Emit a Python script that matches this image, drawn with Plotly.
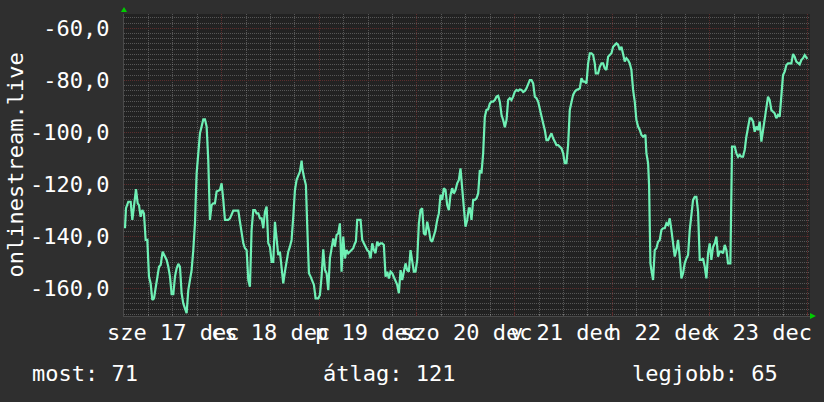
import plotly.graph_objects as go

# ---- data (hours since Dec 17 00:00, values) ----
hours = [
    0.24, 0.49, 1.06, 1.64, 2.05, 2.45, 2.95, 3.36, 3.68, 4.09, 4.50, 4.91, 5.32, 5.73, 6.14, 6.55, 6.96, 7.37, 7.78, 8.19,
    8.60, 9.01, 9.50, 10.07, 10.48, 10.89, 11.30, 11.71, 12.12, 12.53, 12.94, 13.35, 13.76, 14.16, 14.57, 14.98, 15.39, 15.80,
    16.21, 16.62, 17.03, 17.44, 17.85, 18.26, 18.67, 19.08, 19.49, 19.90, 20.31, 20.71, 21.12, 21.53, 21.94, 22.35, 22.76,
    23.58, 23.99, 24.40, 24.81, 25.63, 26.04, 26.86, 28.09,
    28.50, 28.91, 29.32, 29.73, 30.14, 30.55, 30.95, 31.36, 31.77, 32.18, 32.59, 33.00, 33.41, 33.82, 34.23, 34.64, 35.05,
    35.46, 35.87, 36.28, 36.69, 37.10, 37.51, 37.91, 38.32, 38.73, 39.14, 39.55, 39.96, 40.37, 40.78, 41.19, 41.60, 42.01,
    42.42, 42.83, 43.24, 43.65, 43.89, 44.30, 44.71, 45.04, 45.45, 45.86, 46.27, 46.68, 47.09, 47.74, 48.15, 48.56, 48.97,
    49.38, 49.79, 50.20, 50.61, 51.02, 51.43, 51.83, 52.24, 52.65, 53.06, 53.47, 53.88, 54.29, 54.70, 55.11, 55.52, 55.93,
    56.34, 56.75,
    56.99, 57.32, 58.14, 58.55, 58.96, 59.37, 59.78, 60.19, 60.60, 61.01, 61.42, 61.82, 62.23, 62.64, 63.05, 63.46, 63.87,
    64.28, 64.69, 65.10, 65.51, 65.92, 66.33, 66.74, 67.15, 67.56, 67.97, 68.38, 68.78, 69.19, 69.60, 70.01, 70.42, 70.83,
    71.24, 71.65, 72.06, 72.47, 72.88, 73.29, 73.70, 74.11, 74.52, 74.93, 75.34, 75.74, 76.15, 76.56, 76.97, 77.38, 77.79,
    78.20, 78.61, 79.02, 79.43, 79.84, 80.25, 80.66, 81.07, 81.48, 81.89, 82.30, 82.70, 83.11, 83.52, 83.93, 84.34, 84.75,
    85.00, 85.41, 85.82, 86.23, 86.64, 87.05, 87.45, 87.86, 88.27, 88.68, 89.09, 89.50, 89.91, 90.32, 90.73, 91.14, 91.55,
    91.96, 92.37, 92.78, 93.19, 93.60, 94.01, 94.41, 94.82, 95.23, 95.64, 96.05, 96.46, 96.87, 97.28, 97.69, 98.10, 98.51,
    98.92, 99.33, 99.74, 100.15, 100.56, 100.97, 101.37, 101.78, 102.19, 102.60, 103.01, 103.42, 103.83, 104.24, 104.65,
    105.06, 105.47, 105.88, 106.29, 106.70, 107.11, 107.52, 107.93, 108.33, 108.74, 109.15, 109.56, 109.97, 110.38, 110.79,
    111.20, 111.61, 112.02, 112.43, 112.84,
    113.25, 113.66, 114.07, 114.48, 114.89, 115.30, 115.70, 115.95, 116.52, 116.93, 117.34, 117.75, 118.16, 118.57, 118.98,
    119.39, 119.80, 120.21, 120.62, 121.03, 121.44, 121.85, 122.26, 122.66, 123.07, 123.48, 123.89, 124.30, 124.71, 125.12,
    125.53, 125.94, 126.35, 126.76, 127.17, 127.58, 128.15, 128.40, 128.81, 129.05, 129.38, 129.62, 130.03, 130.44, 130.85,
    131.26, 131.67, 132.08, 132.49, 132.90, 133.31, 133.72, 134.13, 134.54, 134.95, 135.36, 135.77, 136.17, 136.58, 136.99,
    137.40, 137.81, 138.22, 138.63, 139.04, 139.45, 139.86, 140.27, 140.68, 141.09,
    141.33, 141.50, 141.91, 142.32, 142.73, 143.14, 143.55, 143.95, 144.36, 144.77, 145.18, 145.59, 146.00, 146.41, 146.82,
    147.23, 147.64, 148.05, 148.46, 149.03, 149.44, 150.10, 150.51, 150.91, 151.32, 151.73, 152.14, 152.55, 152.96, 153.37,
    153.78, 154.19, 154.60, 155.01, 155.42, 155.83, 156.24, 156.65, 157.06, 157.47, 157.87, 158.28, 158.69, 159.10, 159.51,
    159.92, 160.33, 160.74, 161.15, 161.56, 161.97, 162.38, 162.79, 163.20, 163.61, 164.02, 164.43, 164.83, 165.24, 165.65,
    166.06, 166.47, 166.88, 167.29, 167.70, 167.95,
]
values = [
    -136.9, -129.2, -126.7, -126.7, -133.7, -127.3, -121.9, -127.3, -128.0, -132.5, -129.9, -131.2, -141.4, -141.4, -155.5,
    -158.1, -164.5, -163.9, -159.4, -154.2, -151.7, -151.0, -145.9, -147.8, -149.1, -151.7, -155.5, -162.2, -162.2, -155.5,
    -152.3, -150.6, -151.7, -161.9, -165.8, -167.7, -169.6, -160.7, -156.8, -153.0, -145.3, -135.0, -115.8, -107.4, -100.4,
    -97.8, -95.0, -95.0, -97.8, -110.7, -133.7, -128.0, -127.3, -127.3, -122.8, -122.2, -119.6, -126.0, -133.7, -133.7,
    -133.1, -130.1, -130.1,
    -134.4, -138.9, -142.7, -144.6, -145.3, -156.8, -159.4, -137.6, -129.9, -129.9, -131.2, -131.2, -133.1, -133.1, -136.9,
    -130.5, -128.6, -142.7, -144.0, -149.8, -149.8, -134.4, -142.7, -147.2, -145.9, -152.9, -158.1, -153.6, -149.1, -145.9,
    -144.0, -141.4, -132.5, -122.2, -118.3, -116.4, -115.1, -110.9, -114.5, -117.7, -120.3, -136.3, -154.2, -155.5, -156.8,
    -158.7, -163.9, -163.9, -162.6, -155.5, -145.0, -152.9, -154.2, -160.7, -148.5, -144.0, -140.8, -144.0, -139.5, -138.9,
    -135.0, -153.6, -140.1, -148.5, -145.3, -146.6, -145.9, -145.3, -144.6, -142.7,
    -142.1, -133.7, -133.7, -141.4, -142.7, -144.0, -145.3, -145.9, -148.5, -142.7, -145.3, -146.5, -142.1, -143.3, -142.7,
    -142.7, -143.3, -155.5, -153.6, -156.2, -153.6, -154.2, -155.5, -156.8, -158.7, -161.9, -153.0, -156.8, -153.0, -150.4,
    -153.0, -153.6, -145.3, -149.8, -153.6, -153.6, -149.1, -135.0, -129.9, -129.2, -138.9, -139.5, -134.4, -137.6, -141.4,
    -142.1, -140.1, -137.6, -133.7, -131.2, -124.1, -126.0, -121.5, -122.2, -128.0, -129.9, -124.1, -121.5, -123.5, -122.2,
    -119.6, -118.3, -113.9, -120.9, -127.3, -136.3, -133.7, -129.2,
    -129.2, -133.7, -126.0, -126.0, -125.4, -123.5, -114.5, -115.8, -108.1, -94.0, -91.4, -91.2, -88.9, -88.2, -88.2, -87.6,
    -86.3, -86.0, -88.2, -93.3, -95.3, -98.1, -95.3, -87.6, -86.9, -87.6, -86.3, -84.4, -83.7, -84.1, -83.5, -83.7, -84.5,
    -84.1, -83.1, -81.8, -79.9, -79.9, -81.2, -86.3, -86.9, -88.2, -91.4, -94.6, -96.5, -99.1, -103.0, -103.0, -101.7,
    -100.4, -102.3, -103.6, -104.9, -104.9, -105.5, -106.2, -108.1, -111.9, -111.9, -104.9, -91.4, -88.2, -85.6, -84.4,
    -83.7, -83.5, -83.1, -79.2, -80.5,
    -80.5, -81.2, -73.5, -69.6, -69.6, -70.3, -73.5, -77.3, -77.3, -74.8, -73.5, -73.5, -75.4, -76.0, -70.9, -70.3, -69.6,
    -67.1, -66.4, -65.8, -66.4, -68.3, -67.1, -70.3, -72.8, -71.5, -72.2, -73.5, -76.0, -83.7, -88.2, -95.3, -97.8, -99.1,
    -101.0, -101.7, -101.0, -108.1, -111.9, -120.3, -150.4, -153.0, -156.8, -145.3, -144.6, -142.1, -141.4, -137.6, -136.9,
    -136.9, -135.0, -135.6, -133.1, -137.6, -142.7, -147.8, -145.3, -141.4, -147.8, -156.2, -154.2, -150.4, -148.5, -147.2,
    -137.6, -132.5, -126.0, -124.8, -124.8, -130.5,
    -138.9, -149.1, -149.1, -148.5, -151.7, -156.2, -146.5, -142.7, -149.1, -144.0, -142.7, -140.1, -147.8, -145.9, -145.9,
    -146.5, -143.3, -145.3, -150.4, -150.4, -105.5, -105.5, -108.1, -109.4, -108.7, -109.4, -109.4, -106.8, -101.7, -97.8,
    -94.6, -94.6, -95.9, -99.8, -97.8, -99.1, -95.9, -103.6, -99.1, -94.0, -90.1, -86.3, -87.6, -91.4, -92.1, -92.7, -94.6,
    -93.3, -94.0, -83.7, -78.0, -76.7, -74.1, -73.5, -73.5, -73.5, -69.9, -70.9, -72.8, -73.5, -73.9, -72.2, -71.5, -70.3,
    -71.5, -71.8,
]

day_label_hours = [12, 36, 60, 84, 108, 132, 156]
day_labels = ["sze 17 dec", "cs 18 dec", "p 19 dec", "szo 20 dec", "v 21 dec", "h 22 dec", "k 23 dec"]
y_tick_vals = [-60, -80, -100, -120, -140, -160]
y_tick_text = ["-60,0", "-80,0", "-100,0", "-120,0", "-140,0", "-160,0"]
y_title = "onlinestream.live"
stats_labels = ["most: 71", "átlag: 121", "legjobb: 65"]

FONT = "DejaVu Sans Mono"
BG = "#2f2f2f"
PLOT_BG = "#222222"
MINOR = "rgba(150,150,150,0.45)"
MAJOR = "#5c2d2d"

fig = go.Figure()
fig.add_trace(go.Scatter(
    x=hours, y=values, mode="lines",
    line=dict(color="#6ff0b5", width=2.2),
    hoverinfo="skip", showlegend=False,
))

fig.update_layout(
    width=824, height=402,
    margin=dict(l=124, r=14, t=14, b=86),
    paper_bgcolor=BG, plot_bgcolor=PLOT_BG,
    font=dict(family=FONT, size=22, color="white"),
    hovermode=False,
    xaxis=dict(
        range=[0, 168.6], showticklabels=False, zeroline=False, fixedrange=True,
        tick0=0, dtick=24, showgrid=True, gridcolor=MAJOR, griddash="1px,1px", gridwidth=1,
        ticks="inside", ticklen=3, tickcolor=MAJOR,
        minor=dict(tick0=0, dtick=6, showgrid=True, gridcolor=MINOR, griddash="1px,1px",
                   ticks="inside", ticklen=2, tickcolor=MINOR),
        showline=True, linecolor="#4a4a4a", linewidth=1,
    ),
    yaxis=dict(
        range=[-170.65, -54.5], tickmode="array", tickvals=y_tick_vals, ticktext=y_tick_text,
        zeroline=False, showgrid=True, gridcolor=MAJOR, griddash="1px,1px", gridwidth=1,
        ticks="", ticklabelstandoff=9, fixedrange=True,
        tickfont=dict(family=FONT, size=22, color="white"),
        minor=dict(tickmode="linear", tick0=-60, dtick=2, showgrid=True, gridcolor=MINOR, griddash="1px,1px"),
        showline=True, linecolor="#4a4a4a", linewidth=1,
    ),
)

annotations = []
for h, lab in zip(day_label_hours, day_labels):
    annotations.append(dict(x=h, y=-0.053, xref="x", yref="paper", text=lab, showarrow=False,
                            xanchor="center", yanchor="middle",
                            font=dict(family=FONT, size=22, color="white")))
annotations.append(dict(x=-0.1596, y=0.5, xref="paper", yref="paper", text=y_title, textangle=-90,
                        showarrow=False, xanchor="center", yanchor="middle",
                        font=dict(family=FONT, size=22, color="white")))
stats_x = [-0.137, 0.2866, 0.738]
for sx, lab in zip(stats_x, stats_labels):
    annotations.append(dict(x=sx, y=-0.192, xref="paper", yref="paper", text=lab, showarrow=False,
                            xanchor="left", yanchor="middle",
                            font=dict(family=FONT, size=22, color="white")))
fig.update_layout(annotations=annotations)

# axis arrows (green)
fig.add_shape(type="path", xref="paper", yref="paper",
              path="M -0.0045,1.0066 L 0.0045,1.0066 L 0,1.0232 Z",
              fillcolor="#00cc00", line=dict(width=0))
fig.add_shape(type="path", xref="paper", yref="paper",
              path="M 1.0,-0.0099 L 1.0,0.0099 L 1.0087,0 Z",
              fillcolor="#00cc00", line=dict(width=0))

fig.write_html(
    "out.html",
    config={"displayModeBar": False, "staticPlot": True},
    post_script="document.body.style.margin='0';document.body.style.background='#2f2f2f';",
)
